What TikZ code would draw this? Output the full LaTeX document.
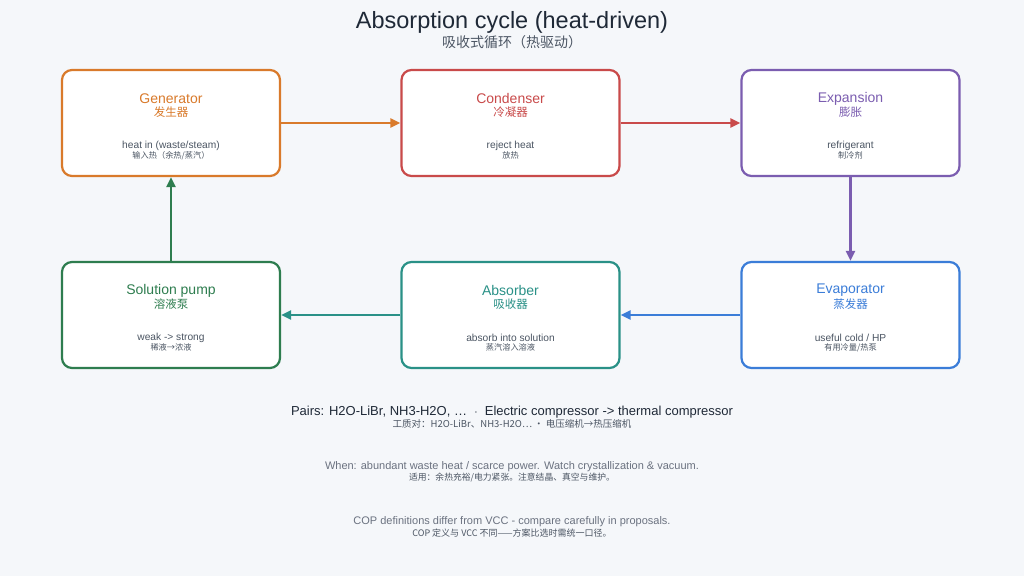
\documentclass[tikz,border=0pt]{standalone}
\usepackage{fontspec}
\setmainfont{Liberation Sans}
\newfontfamily\cjk{Noto Sans CJK SC}
\usetikzlibrary{arrows.meta}
\definecolor{bg}{HTML}{F5F7FA}
\definecolor{ink}{HTML}{1F2937}
\definecolor{muted}{HTML}{4B5563}
\definecolor{soft}{HTML}{6B7280}
\definecolor{gencol}{HTML}{D97A2B}
\definecolor{concol}{HTML}{C94A4A}
\definecolor{expcol}{HTML}{7B5DB0}
\definecolor{evacol}{HTML}{3B7DD8}
\definecolor{abscol}{HTML}{2A9187}
\definecolor{pumpcol}{HTML}{2E7D4F}
\newcommand{\fs}[1]{\fontsize{#1}{#1}\selectfont}

\begin{document}
\begin{tikzpicture}[x=1pt,y=-1pt,
  box/.style={draw,line width=2.2pt,rounded corners=10pt,fill=white,
    minimum width=218pt,minimum height=106pt,inner sep=0pt},
  flow/.style={line width=2.2pt,-{Triangle[length=10pt,width=9pt]}}]
\fill[bg] (0,0) rectangle (1024,576);
\useasboundingbox (0,0) rectangle (1024,576);

\node[ink] (title) at (512,22) {\fs{23.5}Absorption cycle (heat-driven)};
\node[muted] (subtitle) at (512,42) {\fs{14}\cjk 吸收式循环（热驱动）};

% components
\foreach \nm/\cx/\cy/\col/\ttl/\cn/\sub/\subcn in {
  gen/171/123/gencol/Generator/发生器/{heat in (waste/steam)}/{输入热（余热/蒸汽）},
  con/510.5/123/concol/Condenser/冷凝器/reject heat/放热,
  exp/850.5/123/expcol/Expansion/膨胀/refrigerant/制冷剂,
  pump/171/315/pumpcol/Solution pump/溶液泵/weak -> strong/稀液→浓液,
  abs/510.5/315/abscol/Absorber/吸收器/absorb into solution/蒸汽溶入溶液,
  eva/850.5/315/evacol/Evaporator/蒸发器/{useful cold / HP}/{有用冷量/热泵}}{
 \node[box,draw=\col] (\nm) at (\cx,\cy) {};
 \node[\col,inner sep=1pt] at (\cx,\cy-24.5) {\fs{14}\ttl};
 \node[\col,inner sep=1pt] at (\cx,\cy-11) {\fs{11.5}\cjk \cn};
 \node[muted,inner sep=1pt] at (\cx,\cy+22.5) {\fs{10.2}\sub};
 \node[muted,inner sep=1pt] at (\cx,\cy+32.5) {\fs{8.2}\cjk \subcn};}

% cycle
\draw[flow,gencol] (gen) -- (con);
\draw[flow,concol] (con) -- (exp);
\draw[flow,expcol] (exp) -- (eva);
\draw[flow,evacol] (eva) -- (abs);
\draw[flow,abscol] (abs) -- (pump);
\draw[flow,pumpcol] (pump) -- (gen);

% notes
\node[ink] (pairs) at (512,412) {\fs{13}Pairs: H2O-LiBr, NH3-H2O, \dots\ \ $\cdot$\ \ Electric compressor -> thermal compressor};
\node[muted] (pairscn) at (512,424) {\fs{9.5}\cjk 工质对：H2O-LiBr、NH3-H2O… · 电压缩机→热压缩机};
\node[soft] (when) at (512,467) {\fs{11}When: abundant waste heat / scarce power. Watch crystallization \& vacuum.};
\node[muted] (whencn) at (512,478) {\fs{8.8}\cjk 适用：余热充裕/电力紧张。注意结晶、真空与维护。};
\node[soft] (cop) at (512,522) {\fs{11}COP definitions differ from VCC - compare carefully in proposals.};
\node[muted] (copcn) at (512,533) {\fs{9}\cjk COP 定义与 VCC 不同——方案比选时需统一口径。};
\end{tikzpicture}
\end{document}
